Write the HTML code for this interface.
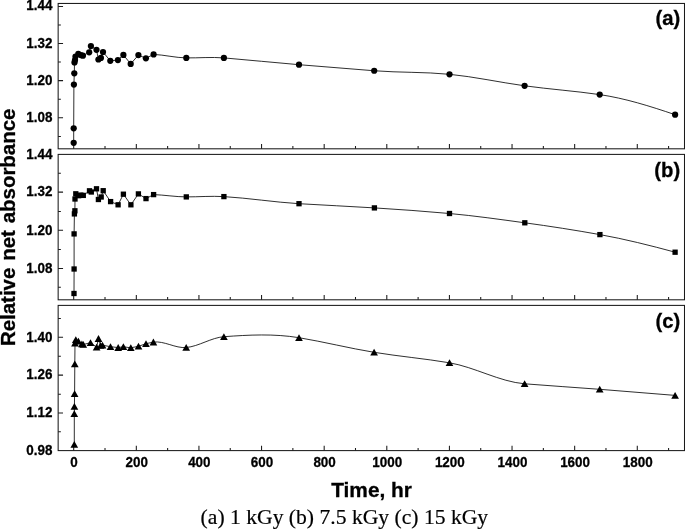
<!DOCTYPE html>
<html><head><meta charset="utf-8"><title>Relative net absorbance vs time</title>
<style>html,body{margin:0;padding:0;background:#fff}svg{display:block}text{stroke:#000;stroke-width:0.3px;font-family:"Liberation Sans",Arial,sans-serif;font-weight:bold;fill:#000}.cap{stroke:#000;stroke-width:0.18px;font-family:"Liberation Serif","Times New Roman",serif;font-weight:normal}</style></head><body>
<svg width="685" height="529" viewBox="0 0 685 529">
<rect width="685" height="529" fill="#fff"/>
<g stroke="#1a1a1a" stroke-width="1.05" fill="none">
<rect x="58.15" y="3.45" width="626.35" height="145.35"/>
<path d="M58.15 6.40 h4.9 M58.15 43.40 h4.9 M58.15 80.60 h4.9 M58.15 117.80 h4.9 M58.15 24.90 h2.7 M58.15 62.00 h2.7 M58.15 99.20 h2.7 M58.15 136.40 h2.7 M73.70 148.80 v-4.9 M105.01 148.80 v-2.7 M136.32 148.80 v-4.9 M167.63 148.80 v-2.7 M198.94 148.80 v-4.9 M230.25 148.80 v-2.7 M261.56 148.80 v-4.9 M292.87 148.80 v-2.7 M324.18 148.80 v-4.9 M355.49 148.80 v-2.7 M386.80 148.80 v-4.9 M418.11 148.80 v-2.7 M449.42 148.80 v-4.9 M480.73 148.80 v-2.7 M512.04 148.80 v-4.9 M543.35 148.80 v-2.7 M574.66 148.80 v-4.9 M605.97 148.80 v-2.7 M637.28 148.80 v-4.9 M668.59 148.80 v-2.7 "/>
</g>
<text transform="translate(52.4 10.10) scale(0.92 1)" font-size="14.6" text-anchor="end">1.44</text>
<text transform="translate(52.4 47.75) scale(0.92 1)" font-size="14.6" text-anchor="end">1.32</text>
<text transform="translate(52.4 84.95) scale(0.92 1)" font-size="14.6" text-anchor="end">1.20</text>
<text transform="translate(52.4 122.15) scale(0.92 1)" font-size="14.6" text-anchor="end">1.08</text>
<text transform="translate(680.2 25.20) scale(0.965 1)" font-size="21" text-anchor="end">(a)</text>
<g stroke="#1a1a1a" stroke-width="1.05" fill="none">
<rect x="58.15" y="154.40" width="626.35" height="145.40"/>
<path d="M58.15 192.10 h4.9 M58.15 230.20 h4.9 M58.15 268.40 h4.9 M58.15 173.30 h2.7 M58.15 211.40 h2.7 M58.15 249.40 h2.7 M58.15 287.30 h2.7 M73.70 299.80 v-4.9 M105.01 299.80 v-2.7 M136.32 299.80 v-4.9 M167.63 299.80 v-2.7 M198.94 299.80 v-4.9 M230.25 299.80 v-2.7 M261.56 299.80 v-4.9 M292.87 299.80 v-2.7 M324.18 299.80 v-4.9 M355.49 299.80 v-2.7 M386.80 299.80 v-4.9 M418.11 299.80 v-2.7 M449.42 299.80 v-4.9 M480.73 299.80 v-2.7 M512.04 299.80 v-4.9 M543.35 299.80 v-2.7 M574.66 299.80 v-4.9 M605.97 299.80 v-2.7 M637.28 299.80 v-4.9 M668.59 299.80 v-2.7 "/>
</g>
<text transform="translate(52.4 158.65) scale(0.92 1)" font-size="14.6" text-anchor="end">1.44</text>
<text transform="translate(52.4 196.45) scale(0.92 1)" font-size="14.6" text-anchor="end">1.32</text>
<text transform="translate(52.4 234.55) scale(0.92 1)" font-size="14.6" text-anchor="end">1.20</text>
<text transform="translate(52.4 272.75) scale(0.92 1)" font-size="14.6" text-anchor="end">1.08</text>
<text transform="translate(680.2 177.30) scale(0.965 1)" font-size="21" text-anchor="end">(b)</text>
<g stroke="#1a1a1a" stroke-width="1.05" fill="none">
<rect x="58.15" y="305.40" width="626.35" height="145.20"/>
<path d="M58.15 337.30 h4.9 M58.15 375.10 h4.9 M58.15 413.00 h4.9 M58.15 318.50 h2.7 M58.15 356.20 h2.7 M58.15 394.20 h2.7 M58.15 431.80 h2.7 M73.70 450.60 v-4.9 M105.01 450.60 v-2.7 M136.32 450.60 v-4.9 M167.63 450.60 v-2.7 M198.94 450.60 v-4.9 M230.25 450.60 v-2.7 M261.56 450.60 v-4.9 M292.87 450.60 v-2.7 M324.18 450.60 v-4.9 M355.49 450.60 v-2.7 M386.80 450.60 v-4.9 M418.11 450.60 v-2.7 M449.42 450.60 v-4.9 M480.73 450.60 v-2.7 M512.04 450.60 v-4.9 M543.35 450.60 v-2.7 M574.66 450.60 v-4.9 M605.97 450.60 v-2.7 M637.28 450.60 v-4.9 M668.59 450.60 v-2.7 "/>
</g>
<text transform="translate(52.4 341.65) scale(0.92 1)" font-size="14.6" text-anchor="end">1.40</text>
<text transform="translate(52.4 379.45) scale(0.92 1)" font-size="14.6" text-anchor="end">1.26</text>
<text transform="translate(52.4 417.35) scale(0.92 1)" font-size="14.6" text-anchor="end">1.12</text>
<text transform="translate(52.4 454.95) scale(0.92 1)" font-size="14.6" text-anchor="end">0.98</text>
<text transform="translate(680.2 328.40) scale(0.965 1)" font-size="21" text-anchor="end">(c)</text>
<path d="M73.70 142.80 L73.70 128.30 L73.90 84.60 L74.30 73.30 L74.50 62.40 L75.00 60.10 L75.50 56.60 L78.30 53.90 L80.80 55.10 L82.90 55.70 L89.20 52.30 L90.90 46.10 L96.50 49.80 L98.40 59.50 L100.90 57.90 L103.00 52.00 L110.30 60.80 L117.90 60.10 L123.40 54.90 L130.70 63.90 L138.40 55.10 L145.90 58.30 L153.60 54.40 C164.50 54.88 175.40 57.75 186.30 57.90 C198.83 58.07 211.37 56.86 223.90 57.90 C248.93 59.97 273.97 62.62 299.00 64.70 C324.07 66.78 349.13 68.81 374.20 70.75 C399.30 72.70 424.40 71.84 449.50 74.30 C474.53 76.76 499.57 82.34 524.60 85.80 C549.63 89.26 574.67 90.94 599.70 94.60 C624.83 98.27 649.97 106.12 675.10 114.70" fill="none" stroke="#000" stroke-width="0.82" stroke-linejoin="round"/>
<g fill="#000"><circle cx="73.70" cy="142.80" r="3.12"/><circle cx="73.70" cy="128.30" r="3.12"/><circle cx="73.90" cy="84.60" r="3.12"/><circle cx="74.30" cy="73.30" r="3.12"/><circle cx="74.50" cy="62.40" r="3.12"/><circle cx="75.00" cy="60.10" r="3.12"/><circle cx="75.50" cy="56.60" r="3.12"/><circle cx="78.30" cy="53.90" r="3.12"/><circle cx="80.80" cy="55.10" r="3.12"/><circle cx="82.90" cy="55.70" r="3.12"/><circle cx="89.20" cy="52.30" r="3.12"/><circle cx="90.90" cy="46.10" r="3.12"/><circle cx="96.50" cy="49.80" r="3.12"/><circle cx="98.40" cy="59.50" r="3.12"/><circle cx="100.90" cy="57.90" r="3.12"/><circle cx="103.00" cy="52.00" r="3.12"/><circle cx="110.30" cy="60.80" r="3.12"/><circle cx="117.90" cy="60.10" r="3.12"/><circle cx="123.40" cy="54.90" r="3.12"/><circle cx="130.70" cy="63.90" r="3.12"/><circle cx="138.40" cy="55.10" r="3.12"/><circle cx="145.90" cy="58.30" r="3.12"/><circle cx="153.60" cy="54.40" r="3.12"/><circle cx="186.30" cy="57.90" r="3.12"/><circle cx="223.90" cy="57.90" r="3.12"/><circle cx="299.00" cy="64.70" r="3.12"/><circle cx="374.20" cy="70.75" r="3.12"/><circle cx="449.50" cy="74.30" r="3.12"/><circle cx="524.60" cy="85.80" r="3.12"/><circle cx="599.70" cy="94.60" r="3.12"/><circle cx="675.10" cy="114.70" r="3.12"/></g>
<path d="M74.00 293.50 L74.10 269.00 L74.10 233.90 L74.40 213.90 L74.90 210.80 L75.00 199.00 L75.80 193.80 L78.60 195.70 L80.80 195.10 L83.30 195.40 L89.50 190.80 L91.30 192.00 L96.50 188.80 L98.40 199.50 L101.20 197.00 L103.20 190.70 L110.60 201.60 L118.10 204.80 L123.40 194.20 L130.90 204.80 L138.40 193.90 L146.00 198.60 L153.60 194.60 C164.50 194.95 175.40 196.86 186.30 196.90 C198.83 196.94 211.37 195.84 223.90 196.60 C248.93 198.12 273.97 202.15 299.00 203.70 C324.13 205.25 349.27 206.29 374.40 207.90 C399.43 209.50 424.47 211.19 449.50 213.50 C474.60 215.81 499.70 219.37 524.80 222.80 C549.83 226.22 574.87 230.08 599.90 234.60 C624.97 239.12 650.03 245.37 675.10 252.20" fill="none" stroke="#000" stroke-width="0.82" stroke-linejoin="round"/>
<g fill="#000"><rect x="71.35" y="290.85" width="5.3" height="5.3"/><rect x="71.45" y="266.35" width="5.3" height="5.3"/><rect x="71.45" y="231.25" width="5.3" height="5.3"/><rect x="71.75" y="211.25" width="5.3" height="5.3"/><rect x="72.25" y="208.15" width="5.3" height="5.3"/><rect x="72.35" y="196.35" width="5.3" height="5.3"/><rect x="73.15" y="191.15" width="5.3" height="5.3"/><rect x="75.95" y="193.05" width="5.3" height="5.3"/><rect x="78.15" y="192.45" width="5.3" height="5.3"/><rect x="80.65" y="192.75" width="5.3" height="5.3"/><rect x="86.85" y="188.15" width="5.3" height="5.3"/><rect x="88.65" y="189.35" width="5.3" height="5.3"/><rect x="93.85" y="186.15" width="5.3" height="5.3"/><rect x="95.75" y="196.85" width="5.3" height="5.3"/><rect x="98.55" y="194.35" width="5.3" height="5.3"/><rect x="100.55" y="188.05" width="5.3" height="5.3"/><rect x="107.95" y="198.95" width="5.3" height="5.3"/><rect x="115.45" y="202.15" width="5.3" height="5.3"/><rect x="120.75" y="191.55" width="5.3" height="5.3"/><rect x="128.25" y="202.15" width="5.3" height="5.3"/><rect x="135.75" y="191.25" width="5.3" height="5.3"/><rect x="143.35" y="195.95" width="5.3" height="5.3"/><rect x="150.95" y="191.95" width="5.3" height="5.3"/><rect x="183.65" y="194.25" width="5.3" height="5.3"/><rect x="221.25" y="193.95" width="5.3" height="5.3"/><rect x="296.35" y="201.05" width="5.3" height="5.3"/><rect x="371.75" y="205.25" width="5.3" height="5.3"/><rect x="446.85" y="210.85" width="5.3" height="5.3"/><rect x="522.15" y="220.15" width="5.3" height="5.3"/><rect x="597.25" y="231.95" width="5.3" height="5.3"/><rect x="672.45" y="249.55" width="5.3" height="5.3"/></g>
<path d="M74.30 444.50 L74.30 413.80 L74.40 406.50 L74.60 393.70 L74.80 363.90 L75.00 343.10 L75.80 339.70 L78.40 341.20 L81.90 343.90 L83.30 344.50 L90.50 342.70 L96.60 347.20 L98.50 338.60 L100.60 345.40 L102.50 345.20 L110.50 346.70 L118.20 347.60 L123.40 346.80 L130.80 347.80 L138.50 346.30 L146.00 343.70 L153.40 342.10 C164.33 340.67 175.27 348.46 186.20 347.50 C198.77 346.40 211.33 337.61 223.90 336.70 C248.93 334.88 273.97 333.54 299.00 337.70 C324.03 341.86 349.07 348.21 374.10 352.30 C399.23 356.41 424.37 358.56 449.50 362.80 C474.53 367.03 499.57 381.70 524.60 383.80 C549.63 385.90 574.67 387.28 599.70 389.30 C624.83 391.33 649.97 393.27 675.10 395.40" fill="none" stroke="#000" stroke-width="0.82" stroke-linejoin="round"/>
<g fill="#000"><path d="M74.30 441.00 l3.85 6.8 h-7.7z"/><path d="M74.30 410.30 l3.85 6.8 h-7.7z"/><path d="M74.40 403.00 l3.85 6.8 h-7.7z"/><path d="M74.60 390.20 l3.85 6.8 h-7.7z"/><path d="M74.80 360.40 l3.85 6.8 h-7.7z"/><path d="M75.00 339.60 l3.85 6.8 h-7.7z"/><path d="M75.80 336.20 l3.85 6.8 h-7.7z"/><path d="M78.40 337.70 l3.85 6.8 h-7.7z"/><path d="M81.90 340.40 l3.85 6.8 h-7.7z"/><path d="M83.30 341.00 l3.85 6.8 h-7.7z"/><path d="M90.50 339.20 l3.85 6.8 h-7.7z"/><path d="M96.60 343.70 l3.85 6.8 h-7.7z"/><path d="M98.50 335.10 l3.85 6.8 h-7.7z"/><path d="M100.60 341.90 l3.85 6.8 h-7.7z"/><path d="M102.50 341.70 l3.85 6.8 h-7.7z"/><path d="M110.50 343.20 l3.85 6.8 h-7.7z"/><path d="M118.20 344.10 l3.85 6.8 h-7.7z"/><path d="M123.40 343.30 l3.85 6.8 h-7.7z"/><path d="M130.80 344.30 l3.85 6.8 h-7.7z"/><path d="M138.50 342.80 l3.85 6.8 h-7.7z"/><path d="M146.00 340.20 l3.85 6.8 h-7.7z"/><path d="M153.40 338.60 l3.85 6.8 h-7.7z"/><path d="M186.20 344.00 l3.85 6.8 h-7.7z"/><path d="M223.90 333.20 l3.85 6.8 h-7.7z"/><path d="M299.00 334.20 l3.85 6.8 h-7.7z"/><path d="M374.10 348.80 l3.85 6.8 h-7.7z"/><path d="M449.50 359.30 l3.85 6.8 h-7.7z"/><path d="M524.60 380.30 l3.85 6.8 h-7.7z"/><path d="M599.70 385.80 l3.85 6.8 h-7.7z"/><path d="M675.10 391.90 l3.85 6.8 h-7.7z"/></g>
<text transform="translate(74.10 467.0) scale(0.92 1)" font-size="14.6" text-anchor="middle">0</text>
<text transform="translate(136.72 467.0) scale(0.92 1)" font-size="14.6" text-anchor="middle">200</text>
<text transform="translate(199.34 467.0) scale(0.92 1)" font-size="14.6" text-anchor="middle">400</text>
<text transform="translate(261.96 467.0) scale(0.92 1)" font-size="14.6" text-anchor="middle">600</text>
<text transform="translate(324.58 467.0) scale(0.92 1)" font-size="14.6" text-anchor="middle">800</text>
<text transform="translate(387.20 467.0) scale(0.92 1)" font-size="14.6" text-anchor="middle">1000</text>
<text transform="translate(449.82 467.0) scale(0.92 1)" font-size="14.6" text-anchor="middle">1200</text>
<text transform="translate(512.44 467.0) scale(0.92 1)" font-size="14.6" text-anchor="middle">1400</text>
<text transform="translate(575.06 467.0) scale(0.92 1)" font-size="14.6" text-anchor="middle">1600</text>
<text transform="translate(637.68 467.0) scale(0.92 1)" font-size="14.6" text-anchor="middle">1800</text>
<text x="331.2" y="496.9" font-size="20.8" textLength="80.8" lengthAdjust="spacingAndGlyphs">Time, hr</text>
<text transform="translate(14.7 346.1) rotate(-90) scale(0.988 1)" font-size="20.7" word-spacing="1.2">Relative net absorbance</text>
<text class="cap" x="200.6" y="523.9" font-size="21" textLength="287.6" lengthAdjust="spacingAndGlyphs">(a) 1 kGy (b) 7.5 kGy (c) 15 kGy</text>
</svg></body></html>
